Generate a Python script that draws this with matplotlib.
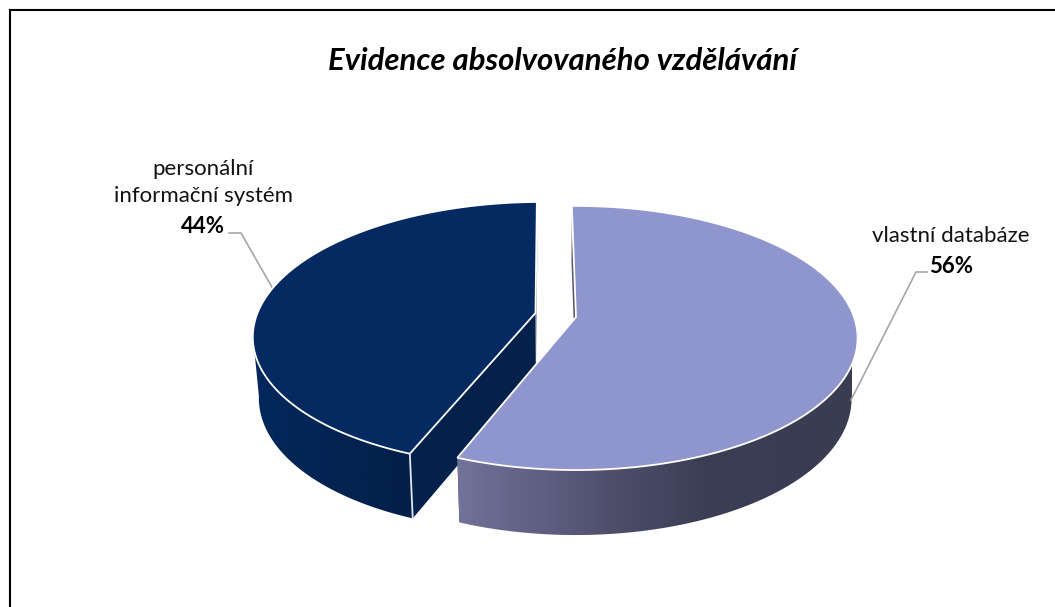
import numpy as np
import matplotlib
matplotlib.use('Agg')
import matplotlib.pyplot as plt
from matplotlib.colors import LinearSegmentedColormap
from matplotlib.patches import Polygon

# data
categories = ['vlastní databáze', 'personální\ninformační systém']
values = [56.2, 43.8]
title = 'Evidence absolvovaného vzdělávání'

plt.rcParams['font.family'] = ['Lato', 'DejaVu Sans']

W, H = 1055, 607
fig = plt.figure(figsize=(W / 100, H / 100), dpi=100)
ax = fig.add_axes([0, 0, 1, 1])
ax.set_xlim(0, W)
ax.set_ylim(H, 0)
ax.axis('off')

# pie "3D" look
RX, RY, PERSP = 278, 128.7, 0.159
BOTTOM_SCALE, MID_X = 0.98, 556
START = -1.0


def project(ang, r, apex, lean, bottom=False):
    # ang in degrees, clockwise from north
    t = np.radians(ang)
    u, v = r * np.sin(t), r * np.cos(t)
    d = 1 + PERSP * v
    dy = -RY * v / d
    x = apex[0] + RX * u / d + lean * dy
    y = apex[1] + dy
    if bottom:
        x = MID_X + (x - MID_X) * BOTTOM_SCALE
        y = y + 60 - 5 * v
    return x, y


def draw_slice(a0, a1, apex, lean, top_col, wall_cmap, x_rng, face0, face1, z):
    angs = np.linspace(a0, a1, 300)
    # radial faces, behind the wall
    for a, col in ((a0, face0), (a1, face1)):
        pts = [project(a, 0, apex, lean), project(a, 1, apex, lean),
               project(a, 1, apex, lean, True), project(a, 0, apex, lean, True)]
        ax.fill(*zip(*pts), color=col, lw=0, zorder=z)
    # side wall: gradient clipped to the rim, cut where the rim is widest
    front = angs[np.cos(np.radians(angs)) < -PERSP]
    xt, yt = project(front, 1, apex, lean)
    xb, yb = project(front, 1, apex, lean, True)
    wall = Polygon(np.c_[np.r_[xt, xb[::-1]], np.r_[yt, yb[::-1]]], closed=True, transform=ax.transData, fc='none', ec='none')
    ax.add_patch(wall)
    grad = np.linspace(0, 1, 512).reshape(1, -1)
    im = ax.imshow(grad, cmap=wall_cmap, extent=(x_rng[0], x_rng[1], H, 0), aspect='auto', zorder=z + 0.1, interpolation='bilinear')
    im.set_clip_path(wall)
    # top face
    xt, yt = project(angs, 1, apex, lean)
    ax.fill(np.r_[apex[0], xt], np.r_[apex[1], yt], facecolor=top_col, edgecolor='white', lw=1.3,
            joinstyle='miter', zorder=z + 0.3)


cum = np.cumsum(np.r_[0, values]) / np.sum(values) * 360 + START

right_wall = LinearSegmentedColormap.from_list('r', [(0, '#72729b'), (0.41, '#4d4d6a'), (0.62, '#3c3e56'), (1, '#3a3c52')])
left_wall = LinearSegmentedColormap.from_list('l', [(0, '#04285c'), (0.5, '#032452'), (1, '#03204a')])

# the navy slice goes first, the light one sits in front of it
apex_l = (535.5, 313)
draw_slice(cum[1], cum[2], apex_l, -0.05, '#052a61', left_wall, (254, 412), '#03214a', '#5f6f8f', 2)
# corner line of the navy slice
x0, y0 = project(cum[1], 1, apex_l, -0.05)
x1, y1 = project(cum[1], 1, apex_l, -0.05, True)
ax.plot([x0, x1], [y0, y1], color='#e4e7ee', lw=1.3, zorder=2.4)

apex_r = (576, 317)
draw_slice(cum[0], cum[1], apex_r, 0, '#8f95cd', right_wall, (457, 852), '#55556f', '#4a4a66', 3)
ax.set_xlim(0, W)
ax.set_ylim(H, 0)

# labels
ax.text(562, 61.5, title, fontsize=22.4, fontweight='bold', fontstyle='italic', ha='center', va='center', color='black')
ax.text(203, 182.5, categories[1], fontsize=16, ha='center', va='center', color='#111111', linespacing=1.48)
ax.text(203, 226.5, '%.0f%%' % values[1], fontsize=16, fontweight='bold', ha='center', va='center', color='black')
ax.text(951, 236.5, categories[0], fontsize=16, ha='center', va='center', color='#111111')
ax.text(951, 266.5, '%.0f%%' % values[0], fontsize=16, fontweight='bold', ha='center', va='center', color='black')

# leader lines
ax.plot([229, 241, 273], [233, 233, 289], color='#a6a6a6', lw=1.2, zorder=1)
ax.plot([927, 916, 851], [272, 272, 400], color='#a6a6a6', lw=1.2, zorder=4)

# frame, open on the right
ax.plot([10, 10], [H, 9.8], color='black', lw=1.5, solid_capstyle='projecting')
ax.plot([10, W], [9.8, 9.8], color='black', lw=1.5)

fig.savefig('out.png', dpi=100)
